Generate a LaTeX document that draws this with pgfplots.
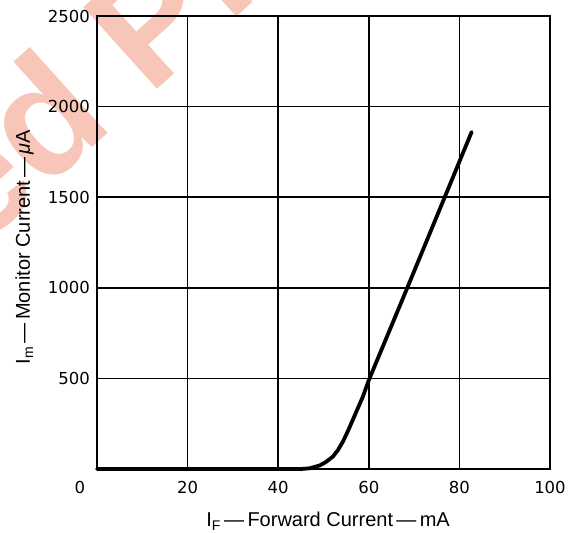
\documentclass[border=0pt]{standalone}
\usepackage{fontspec}
\setmainfont{Liberation Sans}
\newfontfamily\dejavu{DejaVu Sans}
\usepackage{pgfplots}
\pgfplotsset{compat=1.18}
\definecolor{wm}{RGB}{248,198,184}
\begin{document}
\begin{tikzpicture}
\useasboundingbox (-97pt,-64pt) rectangle (471pt,469pt);
\node[rotate=42, anchor=base east, inner sep=0pt, text=wm, font=\fontsize{160}{160}\selectfont\bfseries] at (19pt,343pt) {ed};
\node[rotate=42, anchor=base west, inner sep=0pt, text=wm, font=\fontsize{160}{160}\selectfont\bfseries] at (19pt,343pt) {\hspace*{0.278em}Pr};
\begin{axis}[
  at={(0pt,0pt)}, anchor=south west,
  width=453pt, height=453pt, scale only axis,
  xmin=0, xmax=100, ymin=0, ymax=2500,
  xtick={20,40,...,100}, ytick={500,1000,...,2500},
  extra x ticks={0},
  extra x tick style={grid=none, xticklabel style={xshift=-17pt}},
  grid=major,
  major grid style={black, line width=1.5pt},
  axis line style={black, line width=1.9pt},
  major tick length=0pt,
  /pgf/number format/assume math mode=true,
  /pgf/number format/1000 sep={},
  ticklabel style={font=\dejavu\fontsize{16.5}{18}\selectfont},
  yticklabel style={anchor=east, inner sep=0pt, xshift=-7pt},
  xticklabel style={anchor=north, inner sep=0pt, yshift=-12pt},
  xlabel={I\textsubscript{F}\,—\,Forward Current\,—\,mA},
  ylabel={I\textsubscript{m}\,—\,Monitor Current\,—\,\textit{μ}A},
  label style={font=\fontsize{20}{24}\selectfont},
  xlabel style={at={(axis description cs:0.51,-0.128)}, anchor=base},
  ylabel style={at={(axis description cs:-0.148,0.49)}, anchor=base},
  clip=false,
]
\addplot[black, line width=3.8pt, line join=round, line cap=round] coordinates {
(0,0) (45,0) (47,4) (49.2,20) (50.5,38) (52.1,69) (53.2,105) (54.3,152)
(55.4,210) (56.5,273) (58.7,400) (60,490) (68.5,1000) (82.7,1860)
};
\end{axis}
\end{tikzpicture}
\end{document}
